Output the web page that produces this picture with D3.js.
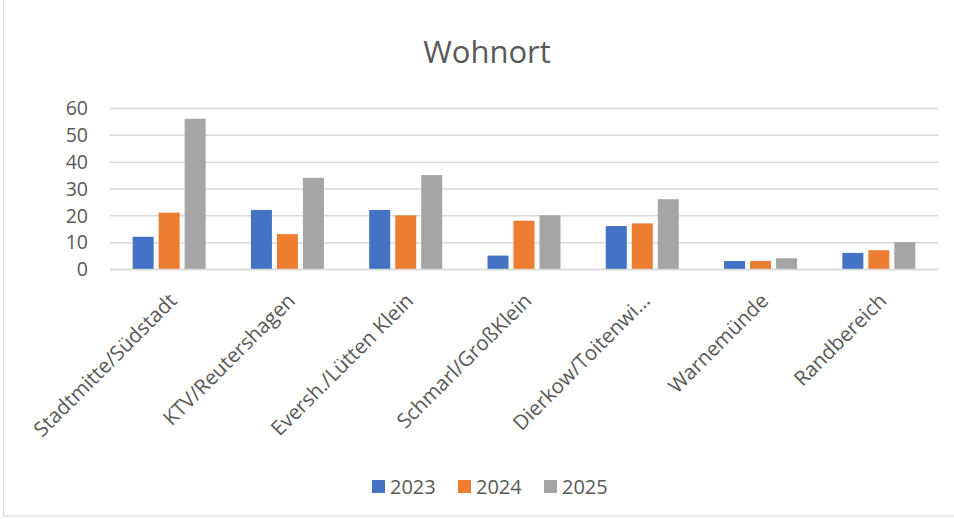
<!DOCTYPE html>
<html>
<head>
<meta charset="utf-8">
<script src="https://cdn.jsdelivr.net/npm/d3@7"></script>
<style>
  body { margin: 0; background: #fff; }
  svg { display: block; font-family: "Open Sans", "Noto Sans", sans-serif; }
</style>
</head>
<body>
<svg id="chart"></svg>
<script>
// data
const categories = ['Stadtmitte/Südstadt', 'KTV/Reutershagen', 'Eversh./Lütten Klein',
    'Schmarl/GroßKlein', 'Dierkow/Toitenwi…', 'Warnemünde', 'Randbereich'];
const years = ['2023', '2024', '2025'];
const values2023 = [12, 22, 22, 5, 16, 3, 6];
const values2024 = [21, 13, 20, 18, 17, 3, 7];
const values2025 = [56, 34, 35, 20, 26, 4, 10];
const yTicks = [0, 10, 20, 30, 40, 50, 60];
const colors = ['#4472C4', '#ED7D31', '#A5A5A5'];

const series = [values2023, values2024, values2025];
const W = 954, H = 519;
const margin = {top: 108, right: 16, bottom: 250, left: 110};
const width = W - margin.left - margin.right,
    height = H - margin.top - margin.bottom;
const font = '"Open Sans", "Noto Sans", sans-serif';

const svg = d3.select('#chart').attr('width', W).attr('height', H);

// chart frame
svg.append('rect')
    .attr('x', 3.5).attr('y', -1).attr('width', W + 2).attr('height', H - 2)
    .attr('fill', 'none').attr('stroke', '#d9d9d9');

svg.append('text')
    .attr('x', 487).attr('y', 63)
    .attr('text-anchor', 'middle')
    .attr('fill', '#595959')
    .style('font-size', '31px')
    .text('Wohnort');

const g = svg.append('g')
    .attr('transform', 'translate(' + margin.left + ',' + margin.top + ')');

const x = d3.scaleBand().domain(categories).range([0, width]);
const x1 = d3.scaleBand().domain(years).range([0, 3 * 21 + 2 * 5]).paddingInner(5 / 26);
const y = d3.scaleLinear().domain([0, 60]).range([height, 0]);

// gridlines
const yAxis = d3.axisLeft(y).tickValues(yTicks).tickSize(-width).tickPadding(22);
const gy = g.append('g').call(yAxis).attr('font-family', font);
gy.select('.domain').remove();
gy.selectAll('.tick line').attr('stroke', '#d9d9d9').attr('stroke-width', 1.5);
gy.selectAll('.tick text')
    .attr('fill', '#595959')
    .style('font-size', '19.5px')
    .attr('dy', '0.35em');

// bars
const groups = g.selectAll('.grp')
    .data(categories)
    .join('g')
    .attr('class', 'grp')
    .attr('transform', d => 'translate(' + (x(d) + (x.bandwidth() - x1.range()[1]) / 2) + ',0)');

groups.selectAll('rect')
    .data((d, i) => years.map((yr, j) => ({yr: yr, v: series[j][i], c: colors[j]})))
    .join('rect')
    .attr('x', d => x1(d.yr))
    .attr('width', x1.bandwidth())
    .attr('y', d => y(d.v))
    .attr('height', d => height - y(d.v))
    .attr('fill', d => d.c);

// x axis
const xAxis = d3.axisBottom(x).tickSize(0).tickPadding(0);
const gx = g.append('g').attr('transform', 'translate(0,' + height + ')').call(xAxis)
    .attr('font-family', font);
gx.select('.domain').attr('stroke', '#d9d9d9').attr('stroke-width', 1.5);
gx.selectAll('.tick text')
    .attr('fill', '#595959')
    .style('font-size', '20.5px')
    .attr('text-anchor', 'end')
    .attr('dy', 0)
    .attr('transform', 'translate(9,33) rotate(-45)');

// legend
const legend = svg.append('g').attr('transform', 'translate(372,480)');
const item = legend.selectAll('g')
    .data(years)
    .join('g')
    .attr('transform', (d, i) => 'translate(' + (i * 86) + ',0)');
item.append('rect').attr('width', 13).attr('height', 13).attr('fill', (d, i) => colors[i]);
item.append('text')
    .attr('x', 18).attr('y', 7).attr('dy', '0.35em')
    .attr('fill', '#595959')
    .style('font-size', '20px')
    .text(d => d);
</script>
</body>
</html>
